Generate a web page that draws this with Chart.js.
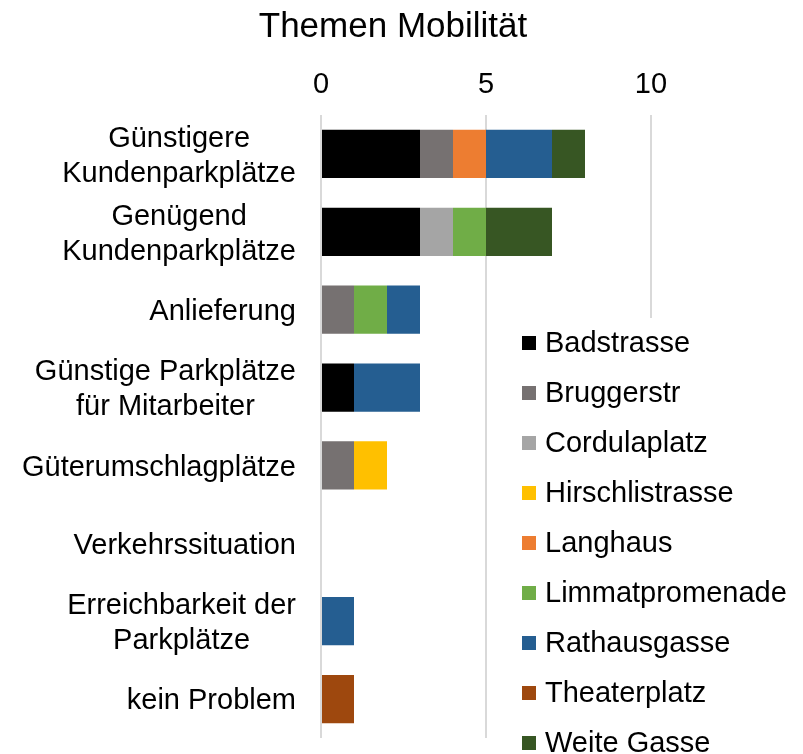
<!DOCTYPE html>
<html><head><meta charset="utf-8">
<script src="https://cdn.jsdelivr.net/npm/chart.js@4/dist/chart.umd.min.js"></script>
<style>html,body{margin:0;padding:0;background:#fff}</style>
</head><body>
<div style="width:803px;height:754px;position:relative"><canvas id="c"></canvas></div>
<script>
const chartTitle = "Themen Mobilität";
const categories = [
  ["Günstigere", "Kundenparkplätze"],
  ["Genügend", "Kundenparkplätze"],
  "Anlieferung",
  ["Günstige Parkplätze", "für Mitarbeiter"],
  "Güterumschlagplätze",
  "Verkehrssituation",
  ["Erreichbarkeit der", "Parkplätze"],
  "kein Problem"
];
const seriesNames = ["Badstrasse","Bruggerstr","Cordulaplatz","Hirschlistrasse","Langhaus","Limmatpromenade","Rathausgasse","Theaterplatz","Weite Gasse"];
const seriesColors = ["#000000","#767171","#A5A5A5","#FFC000","#ED7D31","#70AD47","#255E91","#9E480E","#375623"];
const badstrasse      = [3, 3, 0, 1, 0, 0, 0, 0];
const bruggerstr      = [1, 0, 1, 0, 1, 0, 0, 0];
const cordulaplatz    = [0, 1, 0, 0, 0, 0, 0, 0];
const hirschlistrasse = [0, 0, 0, 0, 1, 0, 0, 0];
const langhaus        = [1, 0, 0, 0, 0, 0, 0, 0];
const limmatpromenade = [0, 1, 1, 0, 0, 0, 0, 0];
const rathausgasse    = [2, 0, 1, 2, 0, 0, 1, 0];
const theaterplatz    = [0, 0, 0, 0, 0, 0, 0, 1];
const weiteGasse      = [1, 2, 0, 0, 0, 0, 0, 0];
const xTicks = [0, 5, 10];

const seriesValues = [badstrasse, bruggerstr, cordulaplatz, hirschlistrasse, langhaus, limmatpromenade, rathausgasse, theaterplatz, weiteGasse];
const FONT = "'Liberation Sans', Arial, sans-serif";

const customDraw = {
  id: 'customDraw',
  afterDraw(chart) {
    const ctx = chart.ctx;
    const ys = chart.scales.y;
    const area = chart.chartArea;
    ctx.save();
    // title
    ctx.fillStyle = '#000';
    ctx.font = '35px ' + FONT;
    ctx.textAlign = 'center';
    ctx.textBaseline = 'alphabetic';
    ctx.fillText(chartTitle, 393, 37);
    // category labels
    ctx.font = '29px ' + FONT;
    const lh = 35;
    const rightX = area.left - 25;
    categories.forEach((cat, i) => {
      const lines = Array.isArray(cat) ? cat : [cat];
      const yc = ys.getPixelForTick(i);
      const w = Math.max(...lines.map(l => ctx.measureText(l).width));
      const cx = rightX - w / 2;
      lines.forEach((l, j) => {
        const by = yc + (j - (lines.length - 1) / 2) * lh + 10.4;
        ctx.fillText(l, cx, by);
      });
    });
    // legend (overlaid)
    ctx.fillStyle = '#fff';
    ctx.fillRect(515, 318, chart.width - 515, chart.height - 318);
    ctx.textAlign = 'left';
    seriesNames.forEach((n, i) => {
      const base = 352 + 50 * i;
      ctx.fillStyle = seriesColors[i];
      ctx.fillRect(522, base - 16, 14, 14);
      ctx.fillStyle = '#000';
      ctx.fillText(n, 545, base);
    });
    ctx.restore();
  }
};

new Chart(document.getElementById('c'), {
  type: 'bar',
  data: {
    labels: categories,
    datasets: seriesNames.map((n, i) => ({
      label: n,
      data: seriesValues[i],
      backgroundColor: seriesColors[i],
      borderWidth: 0,
      categoryPercentage: 1,
      barPercentage: 0.62
    }))
  },
  options: {
    indexAxis: 'y',
    responsive: true,
    maintainAspectRatio: false,
    animation: false,
    layout: { padding: { top: 46, right: 152, bottom: 16, left: 0 } },
    plugins: {
      legend: { display: false },
      title: { display: false },
      tooltip: { enabled: false }
    },
    scales: {
      x: {
        position: 'top',
        stacked: true,
        min: 0, max: 10,
        afterBuildTicks: s => { s.ticks = xTicks.map(v => ({ value: v })); },
        afterFit: s => { s.height = 69; },
        grid: { color: '#D9D9D9', lineWidth: 2, drawTicks: false },
        border: { display: false },
        ticks: { color: '#000', padding: 13, font: { size: 29, family: FONT } }
      },
      y: {
        stacked: true,
        afterFit: s => { s.width = 321; },
        grid: { display: false, drawTicks: false },
        border: { display: false },
        ticks: { display: false }
      }
    }
  },
  plugins: [customDraw]
});
</script>
</body></html>
